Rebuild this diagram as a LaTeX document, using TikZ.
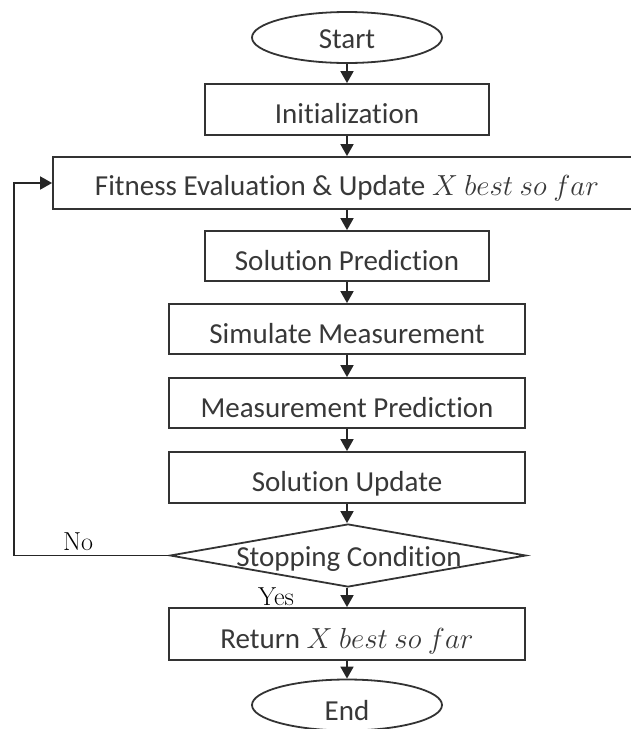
\RequirePackage{fix-cm}
\documentclass[tikz,border=0pt]{standalone}
\usepackage{fontspec}
\newfontfamily\carl[Ligatures=NoCommon]{Carlito}
\usetikzlibrary{shapes.geometric,arrows.meta}
\begin{document}
\begin{tikzpicture}[x=1pt,y=-1pt,
  every node/.style={font=\carl\fontsize{29}{34}\selectfont, text=black!78},
  box/.style={rectangle, draw=black!80, line width=1.8pt, inner sep=0pt,
    text height=28pt, text depth=0pt, minimum height=51pt},
  term/.style={ellipse, draw=black!80, line width=1.8pt, inner sep=0pt,
    minimum width=190pt, minimum height=51pt, text height=28pt, text depth=0pt},
  arr/.style={draw=black!85, line width=1.8pt, -{Triangle[length=12pt,width=13pt]}},
  lbl/.style={font=\rmfamily\fontsize{26}{30}\selectfont, text=black, inner sep=0pt}]
\useasboundingbox (0,0) rectangle (630,729);
\node[term, text height=21pt] (start) at (347,37.5) {Start};
\node[box, minimum width=284pt] (init) at (347,109.5) {Initialization};
\node[box, minimum width=588pt, minimum height=52pt, text height=24pt] (fit) at (347,183) {Fitness Evaluation \& Update $X\ best\ so\ far$};
\node[box, minimum width=284pt, minimum height=50pt] (sp) at (347,256) {Solution Prediction};
\node[box, minimum width=356pt, minimum height=50pt] (sim) at (347,329) {Simulate Measurement};
\node[box, minimum width=356pt, minimum height=50pt] (mp) at (347,403) {Measurement Prediction};
\node[box, minimum width=356pt, minimum height=51pt] (su) at (347,477.5) {Solution Update};
\node[diamond, draw=black!80, line width=1.8pt, inner sep=0pt, minimum width=356pt, minimum height=63pt] (dec) at (348,555.5) {};
\node[anchor=base, inner sep=0pt] (dtext) at (349,566) {Stopping Condition};
\node[box, minimum width=356pt, minimum height=52pt] (ret) at (347,634) {Return $X\ best\ so\ far$};
\node[term, text height=30pt] (end) at (347,705) {End};
\node[lbl, anchor=base] (no) at (78,550) {No};
\node[lbl, anchor=base] (yes) at (276,605) {Yes};
\coordinate (fb) at (14,555.5);
\draw[arr] (start) -- (init);
\draw[arr] (init) -- (fit);
\draw[arr] (fit) -- (sp);
\draw[arr] (sp) -- (sim);
\draw[arr] (sim) -- (mp);
\draw[arr] (mp) -- (su);
\draw[arr] (su.south) -- (su.south |- dec.north);
\draw[arr] (ret.north |- dec.south) -- (ret.north);
\draw[arr] (ret) -- (end);
\draw[arr] (dec.west) -- (fb) |- (fit.west);
\end{tikzpicture}
\end{document}
